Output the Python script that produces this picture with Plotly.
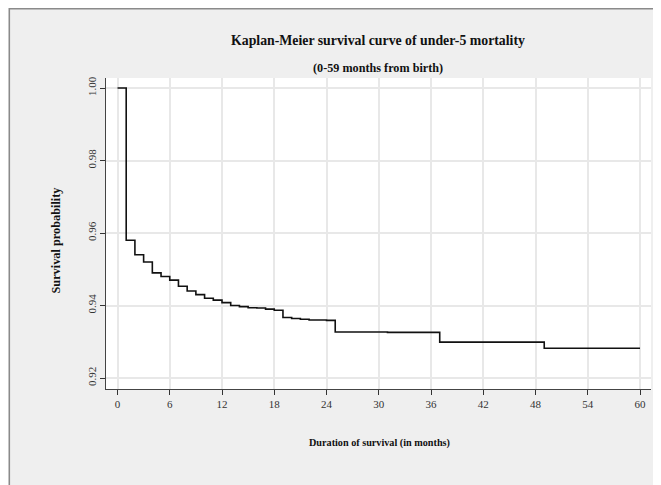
import plotly.graph_objects as go

months = [0, 1, 2, 3, 4, 5, 6, 7, 8, 9, 10, 11, 12, 13, 14, 15, 16, 17, 18, 19,
          20, 21, 22, 23, 24, 25, 31, 37, 49, 60]
survival = [1.000, 0.958, 0.954, 0.952, 0.949, 0.948, 0.947, 0.9453, 0.944, 0.943,
            0.942, 0.9415, 0.9408, 0.9400, 0.9397, 0.9394, 0.9393, 0.9390, 0.9387, 0.9367,
            0.9364, 0.9362, 0.9360, 0.9360, 0.9359, 0.9327, 0.9326, 0.9299, 0.9282, 0.9282]

x_ticks = [0, 6, 12, 18, 24, 30, 36, 42, 48, 54, 60]
y_ticks = [0.92, 0.94, 0.96, 0.98, 1.00]
y_tick_labels = ["0.92", "0.94", "0.96", "0.98", "1.00"]

title = "Kaplan-Meier survival curve of under-5 mortality"
subtitle = "(0-59 months from birth)"
x_title = "Duration of survival (in months)"
y_title = "Survival probability"

FONT = "Liberation Serif, Times New Roman, serif"

# page has an 8px body margin; figure is sized to fill the rest of the window
OFF = 8
W, H = 661 - OFF, 485 - OFF
plot_left, plot_right, plot_top, plot_bottom = 105.5, 651, 78, 389  # page px
L = plot_left - OFF
R = W - (plot_right - OFF)
T = plot_top - OFF
B = H - (plot_bottom - OFF)
pw, ph = W - L - R, H - T - B


def px(x):
    return (x - plot_left) / pw


def py(y):
    return (plot_bottom - y) / ph


fig = go.Figure()
fig.add_trace(go.Scatter(x=months, y=survival, mode="lines", line_shape="hv",
                         line=dict(color="#111111", width=1.6), showlegend=False,
                         hoverinfo="x+y"))

fig.update_layout(
    width=W, height=H,
    margin=dict(l=L, r=R, t=T, b=B, autoexpand=False),
    paper_bgcolor="#efefef",
    plot_bgcolor="white",
    font=dict(family=FONT, color="#222222", size=11),
    xaxis=dict(range=[-1.32, 61.26], tickvals=x_ticks, ticks="outside", ticklen=5,
               tickcolor="#333333", showgrid=True, gridcolor="#e8e8e8", gridwidth=1.5,
               showline=True, linecolor="#444444", linewidth=1.2, zeroline=False,
               automargin=False,
               tickfont=dict(size=11, family=FONT, color="#333333")),
    yaxis=dict(range=[0.91697, 1.00276], tickvals=y_ticks, ticktext=y_tick_labels,
               ticks="outside", ticklen=5, tickcolor="#333333", tickangle=-90,
               showgrid=True, gridcolor="#e8e8e8", gridwidth=1.5,
               showline=True, linecolor="#444444", linewidth=1.2, zeroline=False,
               automargin=False,
               tickfont=dict(size=11, family=FONT, color="#333333")),
    annotations=[
        dict(text="<b>" + title + "</b>", xref="paper", yref="paper",
             x=px(378), y=py(40), xanchor="center", yanchor="middle", showarrow=False,
             font=dict(size=13.8, family=FONT, color="#111111")),
        dict(text="<b>" + subtitle + "</b>", xref="paper", yref="paper",
             x=px(378), y=py(68), xanchor="center", yanchor="middle", showarrow=False,
             font=dict(size=12.2, family=FONT, color="#111111")),
        dict(text="<b>" + x_title + "</b>", xref="paper", yref="paper",
             x=px(379), y=py(443), xanchor="center", yanchor="middle", showarrow=False,
             font=dict(size=10.2, family=FONT, color="#111111")),
        dict(text="<b>" + y_title + "</b>", xref="paper", yref="paper",
             x=px(55), y=py(240), xanchor="center", yanchor="middle", showarrow=False,
             textangle=-90,
             font=dict(size=12.3, family=FONT, color="#111111")),
    ],
    shapes=[
        dict(type="rect", xref="paper", yref="paper", layer="above",
             x0=px(OFF + 0.75), x1=px(720), y0=py(OFF + 0.75), y1=py(540),
             line=dict(color="#8a8a8a", width=1.5), fillcolor="rgba(0,0,0,0)"),
    ],
)

fig.write_html("out.html")
